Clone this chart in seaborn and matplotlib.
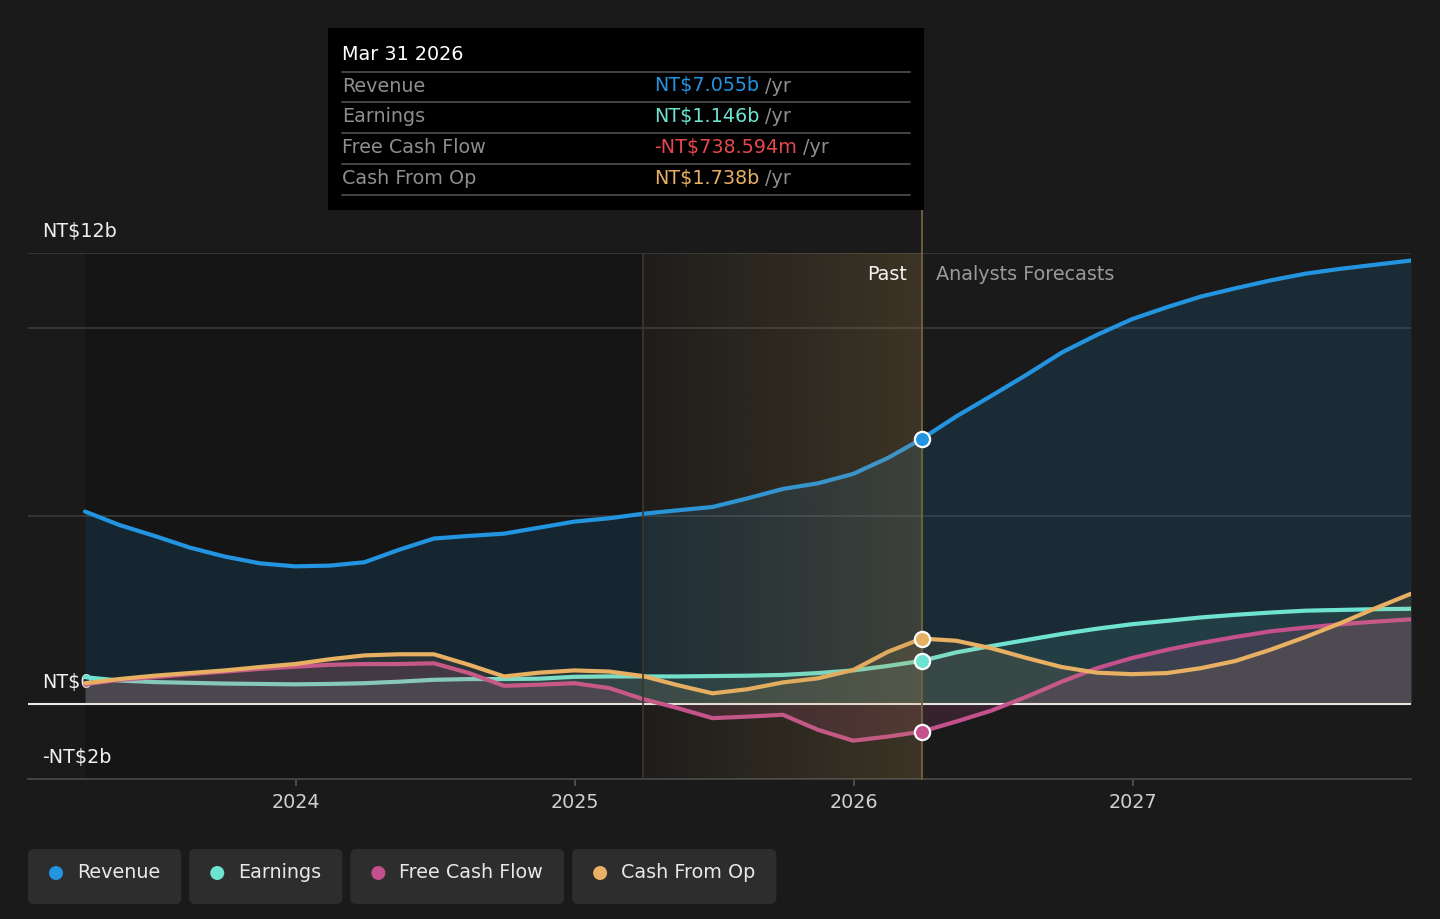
import numpy as np
import pandas as pd
import matplotlib
matplotlib.use("Agg")
import matplotlib.pyplot as plt
import matplotlib.transforms as mtransforms
from matplotlib.patches import FancyBboxPatch, Rectangle, Circle
import seaborn as sns

# ---------------- data ----------------
past_dates = ["2023-03-31", "2023-05-15", "2023-06-30", "2023-08-15", "2023-09-30",
              "2023-11-15", "2023-12-31", "2024-02-15", "2024-03-31", "2024-05-15",
              "2024-06-30", "2024-08-15", "2024-09-30", "2024-11-15", "2024-12-31",
              "2025-02-15", "2025-03-31", "2025-05-15", "2025-06-30", "2025-08-15",
              "2025-09-30", "2025-11-15", "2025-12-31", "2026-02-15", "2026-03-31"]
forecast_dates = ["2026-05-15", "2026-06-30", "2026-08-15", "2026-09-30", "2026-11-15",
                  "2026-12-31", "2027-02-15", "2027-03-31", "2027-05-15", "2027-06-30",
                  "2027-08-15", "2027-09-30", "2027-11-15", "2027-12-31"]

revenue_past = [5.12, 4.76, 4.47, 4.16, 3.92, 3.74, 3.66, 3.68, 3.77, 4.10, 4.40, 4.47, 4.53,
                4.69, 4.85, 4.94, 5.06, 5.15, 5.24, 5.47, 5.72, 5.87, 6.12, 6.55, 7.055]
earnings_past = [0.71, 0.62, 0.58, 0.56, 0.54, 0.53, 0.52, 0.53, 0.55, 0.59, 0.64, 0.66, 0.66,
                 0.67, 0.72, 0.73, 0.73, 0.73, 0.74, 0.75, 0.77, 0.82, 0.89, 1.01, 1.146]
fcf_past = [0.52, 0.64, 0.71, 0.79, 0.86, 0.93, 0.99, 1.04, 1.06, 1.06, 1.08, 0.82, 0.48,
            0.51, 0.55, 0.42, 0.13, -0.11, -0.38, -0.34, -0.29, -0.69, -0.98, -0.87, -0.738594]
cfo_past = [0.55, 0.66, 0.75, 0.82, 0.89, 0.98, 1.06, 1.19, 1.29, 1.32, 1.32, 1.04, 0.73,
            0.83, 0.89, 0.86, 0.74, 0.50, 0.28, 0.39, 0.57, 0.68, 0.90, 1.39, 1.738]

revenue_fc = [7.65, 8.20, 8.76, 9.35, 9.82, 10.24, 10.56, 10.84, 11.06, 11.27, 11.45, 11.58, 11.69, 11.80]
earnings_fc = [1.37, 1.54, 1.70, 1.86, 2.00, 2.12, 2.21, 2.30, 2.37, 2.43, 2.48, 2.50, 2.52, 2.53]
fcf_fc = [-0.47, -0.18, 0.19, 0.59, 0.95, 1.22, 1.44, 1.62, 1.78, 1.93, 2.03, 2.12, 2.19, 2.25]
cfo_fc = [1.68, 1.48, 1.22, 0.98, 0.83, 0.79, 0.82, 0.95, 1.14, 1.44, 1.78, 2.15, 2.55, 2.93]

series_names = ["Revenue", "Earnings", "Free Cash Flow", "Cash From Op"]
series_colors = ["#2394df", "#6fe3d1", "#c4508d", "#e8b063"]
neg_color = "#e5484d"

y_label_values = [12, 0, -2]
y_label_texts = ["NT$12b", "NT$0", "-NT$2b"]
grid_values = [12, 10, 5]
x_tick_years = [2024, 2025, 2026, 2027]

forecast_start = "2025-03-31"   # start of highlighted band
# --------------------------------------

BG = "#1a1a1a"
W, H = 1440, 919


def dec_year(s):
    d = pd.Timestamp(s)
    return d.year + (d.dayofyear - 1) / (366 if d.is_leap_year else 365)


all_dates = past_dates + forecast_dates
xs = np.array([dec_year(d) for d in all_dates])
values = {
    "Revenue": revenue_past + revenue_fc,
    "Earnings": earnings_past + earnings_fc,
    "Free Cash Flow": fcf_past + fcf_fc,
    "Cash From Op": cfo_past + cfo_fc,
}
rows = []
for name in series_names:
    for x, v in zip(xs, values[name]):
        rows.append({"year": x, "value": v, "series": name})
df = pd.DataFrame(rows)

sns.set_theme(style="dark")
plt.rcParams["font.family"] = ["DejaVu Sans"]

fig = plt.figure(figsize=(W / 100, H / 100), dpi=100)
fig.patch.set_facecolor(BG)
ax = fig.add_axes([28 / W, (H - 779) / H, (1411 - 28) / W, (779 - 253) / H])
ax.set_facecolor(BG)

x_now = dec_year(past_dates[-1])
x_band = dec_year(forecast_start)
x_left = 2024 + (28 - 296) / 279
x_right = xs[-1]
i_now = len(past_dates) - 1

# darker past region
ax.axvspan(xs[0], x_band, color="#000000", alpha=0.16, lw=0, zorder=0.5)

# grid lines
for g in grid_values:
    ax.axhline(g, color="#3a3a3a", lw=1.2, zorder=1)

# fills + lines, series by series
fill_alpha = {"Revenue": 0.14, "Earnings": 0.10, "Free Cash Flow": 0.16, "Cash From Op": 0.10}
for k, (name, c) in enumerate(zip(series_names, series_colors)):
    z = 2 + 0.1 * k
    ax.fill_between(xs, values[name], 0, color=c, alpha=fill_alpha[name], lw=0, zorder=z)
    sub = df[df["series"] == name]
    sns.lineplot(data=sub, x="year", y="value", color=c, linewidth=3.0,
                 estimator=None, legend=False, ax=ax, zorder=z + 0.05)

ax.axhline(0, color="#e8e8e8", lw=1.5, zorder=2.22)

# highlight band with gradient
grad = np.zeros((1, 256, 4))
grad[..., 0] = 190 / 255
grad[..., 1] = 150 / 255
grad[..., 2] = 80 / 255
grad[..., 3] = np.linspace(0.03, 0.21, 256)
ax.imshow(grad, extent=[x_band, x_now, -2, 12], aspect="auto", zorder=4,
          interpolation="bicubic", origin="lower")
ax.axvline(x_band, color="#3d362b", lw=1.2, zorder=4.1)
ax.axvline(x_now, ymin=0, ymax=(779 - 210) / (779 - 253), color="#75633f",
           lw=1.3, zorder=4.1, clip_on=False)

# markers at current date
for name, c in zip(series_names, series_colors):
    ax.scatter([x_now], [values[name][i_now]], s=120, color=c,
               edgecolor="white", linewidth=1.6, zorder=6)

ax.set_xlim(x_left, x_right)
ax.set_ylim(-2, 12)

for s in ["top", "left", "right"]:
    ax.spines[s].set_visible(False)
ax.spines["bottom"].set_color("#4a4a4a")
ax.spines["bottom"].set_linewidth(1.2)
ax.set_xticks(x_tick_years)
ax.set_xticklabels([str(y) for y in x_tick_years])
ax.tick_params(axis="x", colors="#555555", length=5, width=1.2, pad=5,
               labelcolor="#d0d0d0", labelsize=13.8, bottom=True)
ax.set_yticks([])
ax.set_xlabel("")
ax.set_ylabel("")
ax.grid(False)

# y labels
blend = mtransforms.blended_transform_factory(ax.transAxes, ax.transData)
for v, t in zip(y_label_values, y_label_texts):
    ax.annotate(t, xy=(14 / (1411 - 28), v), xycoords=blend, xytext=(0, 15.3),
                textcoords="offset points", va="center", ha="left",
                color="#f0f0f0", fontsize=13.8, zorder=1.5, annotation_clip=False)

# Past / Analysts Forecasts
ax.annotate("Past", xy=(x_now, 12), xytext=(-11, -15.2), textcoords="offset points",
            ha="right", va="center", color="#f2f2f2", fontsize=13.8, zorder=7)
ax.annotate("Analysts Forecasts", xy=(x_now, 12), xytext=(10, -15.2),
            textcoords="offset points", ha="left", va="center", color="#9a9a9a",
            fontsize=13.8, zorder=7)

# ---------------- tooltip ----------------
def fy(py):
    return (H - py) / H


fig.add_artist(Rectangle((328 / W, fy(210)), (924 - 328) / W, (210 - 28) / H,
                         transform=fig.transFigure, facecolor="#000000",
                         edgecolor="none", zorder=10))
title = pd.Timestamp(past_dates[-1]).strftime("%b %d %Y")
fig.text(342 / W, fy(55), title, color="#ffffff", fontsize=13.8, va="center", zorder=11)
row_lines = [72, 102, 133, 164, 195]
for yl in row_lines:
    fig.add_artist(plt.Line2D([342 / W, 910 / W], [fy(yl), fy(yl)],
                              transform=fig.transFigure, color="#4a4a4a",
                              lw=1.3, zorder=11))


def fmt(v):
    sign = "-" if v < 0 else ""
    a = abs(v)
    if a < 1:
        return f"{sign}NT${a * 1000:.3f}m"
    return f"{sign}NT${a:.3f}b"


renderer = fig.canvas.get_renderer()
for i, (name, c) in enumerate(zip(series_names, series_colors)):
    yc = (row_lines[i] + row_lines[i + 1]) / 2 - 1
    v = values[name][i_now]
    fig.text(342 / W, fy(yc), name, color="#8e8e8e", fontsize=13.8, va="center", zorder=11)
    tv = fig.text(654 / W, fy(yc), fmt(v), color=(neg_color if v < 0 else c),
                  fontsize=13.8, va="center", zorder=11)
    ext = tv.get_window_extent(renderer)
    fig.text((ext.x1 + 6) / W, fy(yc), "/yr", color="#8e8e8e", fontsize=13.8,
             va="center", zorder=11)

# ---------------- legend ----------------
lx = 28
ly0, ly1 = 849, 904
yc = 873
for name, c in zip(series_names, series_colors):
    t = fig.text((lx + 49) / W, fy(yc), name, color="#e8e8e8", fontsize=13.8,
                 va="center", ha="left", zorder=11)
    tw = t.get_window_extent(renderer).width
    bw = 49 + tw + 21
    fig.add_artist(FancyBboxPatch((lx, H - ly1), bw, ly1 - ly0,
                                  boxstyle="round,pad=0,rounding_size=6",
                                  transform=mtransforms.IdentityTransform(),
                                  facecolor="#2d2d2d", edgecolor="none", zorder=9))
    fig.add_artist(Circle((lx + 28, H - yc), 7, transform=mtransforms.IdentityTransform(),
                          facecolor=c, edgecolor="none", zorder=10))
    lx += bw + 8

fig.savefig("out.png", dpi=100, facecolor=BG)
